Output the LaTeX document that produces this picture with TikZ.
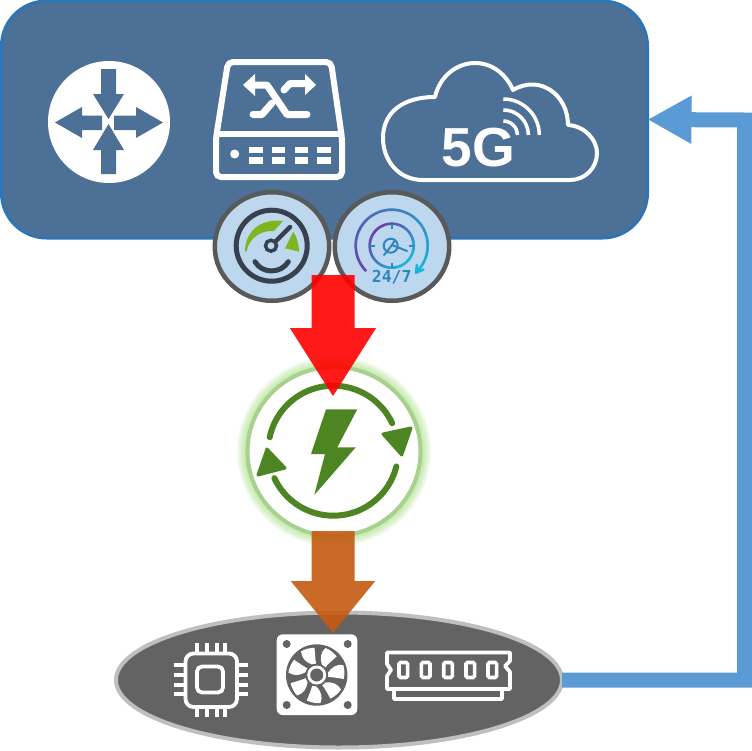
\documentclass[tikz,border=0pt]{standalone}
\usepackage{fontspec}
\setmainfont{Liberation Sans}
\newfontfamily\gaugemono{DejaVu Sans Mono}
\usetikzlibrary{arrows.meta,shapes.geometric}
\definecolor{panelfill}{HTML}{4D7096}
\definecolor{panelline}{HTML}{2E75B6}
\definecolor{loopblue}{HTML}{5B9BD5}
\definecolor{gaugefill}{HTML}{BDD7EE}
\definecolor{gaugeline}{HTML}{595959}
\definecolor{gaugedark}{HTML}{36404E}
\definecolor{gaugegreen}{HTML}{7FB520}
\definecolor{powergreen}{HTML}{4C8521}
\definecolor{ringgreen}{HTML}{A9D18E}
\definecolor{glowgreen}{HTML}{A6E07E}
\definecolor{ellfill}{HTML}{636363}
\definecolor{ellline}{HTML}{BFBFBF}
\definecolor{arrorange}{HTML}{C55A11}
\definecolor{dialpurple}{HTML}{6A3FA8}
\definecolor{dialcyan}{HTML}{18B4DC}
\definecolor{dialblue}{HTML}{2E86C1}
\tikzset{
  panelbox/.style={draw=panelline,fill=panelfill,line width=3pt,rounded corners=45pt,minimum width=646pt,minimum height=237pt,inner sep=0,outer sep=0},
  gaugebox/.style={ellipse,draw=gaugeline,fill=gaugefill,line width=4.5pt,minimum width=114.5pt,minimum height=108.5pt,inner sep=0,outer sep=0},
  powerbox/.style={ellipse,draw=ringgreen,fill=white,line width=4pt,minimum width=173pt,minimum height=169pt,inner sep=0,outer sep=0},
  basebox/.style={ellipse,draw=ellline,fill=ellfill,line width=4pt,minimum width=446pt,minimum height=135pt,inner sep=0,outer sep=0},
  wline/.style={draw=white,line width=3.8pt,line cap=round,line join=round},
  loopline/.style={draw=loopblue,line width=15pt,-{Triangle[length=44pt,width=45pt]}},
  blockred/.style={draw=red,line width=43pt,-{Triangle[length=69pt,width=81pt]}},
  blockorange/.style={draw=arrorange,line width=43pt,-{Triangle[length=52pt,width=81pt]}},
}
\begin{document}
\begin{tikzpicture}[x=1pt,y=-1pt]
\useasboundingbox (0,0) rectangle (752,750);
\fill[white] (0,0) rectangle (752,750);
% panel
\node[panelbox] (panel) at (324.5,119.5) {};
% router
\fill[white] (109,122) circle[radius=61];
\fill[panelfill] (101,69)--(116,69)--(116,94)--(124,94)--(108.5,119)--(93,94)--(101,94)--cycle;
\fill[panelfill] (101,174)--(116,174)--(116,150)--(124,150)--(108.5,124)--(93,150)--(101,150)--cycle;
\fill[panelfill] (55,122.5)--(82,107)--(82,115.5)--(102,115.5)--(102,130)--(82,130)--(82,138)--cycle;
\fill[panelfill] (163,122.5)--(136,107)--(136,115.5)--(114,115.5)--(114,130)--(136,130)--(136,138)--cycle;
% switch
\draw[draw=white,line width=6pt,rounded corners=5pt] (228,62)--(331,62)--(342,138)--(342,177)--(216,177)--(216,138)--cycle;
\draw[draw=white,line width=6pt] (218,134)--(340,134);
\fill[white] (234.7,154) circle[radius=4.5];
\foreach \xa/\xb in {249/263,272/285,295/308,317/331}{
  \fill[white] (\xa,147) rectangle (\xb,153);
  \fill[white] (\xa,157) rectangle (\xb,164);
}
\draw[draw=white,line width=7pt,line cap=round,line join=round] (255,85)--(267,85)--(287,114.5)--(307,114.5);
\draw[draw=white,line width=7pt,line cap=round,line join=round] (253,114.5)--(262,114.5)--(272,103);
\draw[draw=white,line width=7pt,line cap=round,line join=round] (284,90)--(290,83.5)--(304,83.5);
\fill[white] (243,85)--(255,74)--(255,96)--cycle;
\fill[white] (316,85)--(305,74)--(305,95)--cycle;
% cloud
\draw[draw=white,line width=4pt,line join=round] (423,180)
  .. controls (398,180) and (383,160) .. (383,138)
  .. controls (383,113) and (402,97) .. (435,97)
  .. controls (440,75) and (458,63) .. (475,63)
  .. controls (492,63) and (506,74) .. (513,90)
  .. controls (540,74) and (568,95) .. (568,125)
  .. controls (585,126) and (597,140) .. (597,153)
  .. controls (597,168) and (585,180) .. (570,180) -- cycle;
\node[text=white,font=\bfseries\fontsize{55}{55}\selectfont,inner sep=0] (fiveg) at (478.5,148) {5G};
\foreach \r in {14,25,36}{
  \draw[draw=white,line width=3.5pt] plot[domain=-90:0,samples=20] ({503.3+\r*cos(\x)},{135+\r*sin(\x)});
}
% ellipse
\node[basebox] (base) at (339,680) {};
% gauges
\node[gaugebox] (gaugea) at (272,246.5) {};
\node[gaugebox] (gaugeb) at (392,246.5) {};
% left gauge icon
\draw[draw=gaugedark,line width=5pt] (271.7,245.7) circle[radius=35.5];
\fill[gaugegreen] (245,251.5) .. controls (245,232) and (260,218) .. (283,221) -- (274,231) .. controls (261,230) and (249,238) .. (246.5,251.5) -- cycle;
\fill[gaugegreen] (293.3,231.7) .. controls (297,237) and (299,245) .. (299,251.7) -- (285,248.3) -- cycle;
\draw[draw=gaugedark,line width=4.5pt,line cap=round] (273,244) -- (290,227);
\draw[draw=gaugedark,fill=gaugefill,line width=3.5pt] (271,245.7) circle[radius=5.5];
\draw[draw=gaugedark,line width=5pt,line cap=round] (255,261.7) .. controls (262,274) and (281,274) .. (288.3,261.7);
% right gauge icon
\foreach \a in {135,140,...,400}{
  \pgfmathsetmacro{\p}{100-(\a-135)/265*100}
  \draw[draw=dialpurple!\p!dialcyan,line width=2.6pt] plot[domain=\a:\a+5.5,samples=3] ({391.7+36*cos(\x)},{245.7+36*sin(\x)});
}
\foreach \a in {0,6,...,354}{
  \pgfmathsetmacro{\p}{50-50*cos(\a-225)}
  \draw[draw=dialcyan!\p!dialpurple,line width=2.6pt] plot[domain=\a:\a+6.5,samples=3] ({391.7+22*cos(\x)},{245.7+22*sin(\x)});
}
\foreach \a in {0,90,180,270}{
  \draw[draw=dialblue,line width=2pt] ({391.7+22*cos(\a)},{245.7+22*sin(\a)}) -- ({391.7+17*cos(\a)},{245.7+17*sin(\a)});
}
\draw[draw=dialblue,line width=2pt] (390.7,245.7) circle[radius=7];
\draw[draw=dialblue,line width=2pt,line cap=round] (384,255) -- (392,245) -- (407,251);
\draw[draw=dialblue,line width=2pt,line cap=round] (392,245) -- (395,240);
\draw[draw=dialcyan,line width=2.6pt,line cap=round,line join=round] (417,265) -- (416,272.7) -- (423.5,269.5);
\node[text=dialblue,font=\gaugemono\bfseries\fontsize{16.5}{16.5}\selectfont,inner sep=0] (dialtext) at (391.7,276.7) {24/7};
% green glow
\foreach \r in {97,96,95,94,93,92,91,90,89,88,87}{
  \fill[glowgreen,opacity=0.09] (334,451.5) ellipse[x radius=\r,y radius=\r-2];
}
\node[powerbox] (power) at (334,451.5) {};
\draw[draw=powergreen,line width=6pt,line cap=round] plot[domain=192:335,samples=40] ({333.3+65*cos(\x)},{450.7+65*sin(\x)});
\draw[draw=powergreen,line width=6pt,line cap=round] plot[domain=14:155,samples=40] ({333.3+65*cos(\x)},{450.7+65*sin(\x)});
\filldraw[draw=powergreen,fill=powergreen,line width=3pt,line join=round] (383,434)--(411,428)--(401.7,455)--cycle;
\filldraw[draw=powergreen,fill=powergreen,line width=3pt,line join=round] (267,449)--(285,468)--(258,475)--cycle;
\fill[powergreen] (326,409.3)--(357.3,409.3)--(337.3,447.3)--(355.7,447.3)--(314.3,495)--(325,454)--(311,454)--cycle;
% base icons: chip
\draw[wline,rounded corners=8pt] (185.5,653.5) rectangle (237,707);
\draw[wline,rounded corners=5pt] (197,666.5) rectangle (223,692.5);
\foreach \v in {196.7,206.7,216.7,225}{
  \draw[wline,line cap=butt] (\v,643) -- (\v,653);
  \draw[wline,line cap=butt] (\v,707) -- (\v,717);
}
\foreach \v in {665,675,685,694}{
  \draw[wline,line cap=butt] (174,\v) -- (185,\v);
  \draw[wline,line cap=butt] (237,\v) -- (248,\v);
}
% fan
\fill[white,rounded corners=6pt] (276.7,634.3) rectangle (357.3,715);
\foreach \hx/\hy in {286.7/644,347.7/644,286.7/705,347.7/705}{
  \fill[ellfill] (\hx,\hy) circle[radius=4];
}
\fill[ellfill] (316.7,675) circle[radius=30.7];
\foreach \a in {0,51.43,102.86,154.29,205.71,257.14,308.57}{
  \begin{scope}[shift={(316.7,675)},rotate=\a]
    \fill[white] (11,-2) .. controls (15,-8) and (20,-11) .. (26.5,-10) .. controls (28,-6) and (28,-1) .. (27,4) .. controls (21,3) and (16,2) .. (11,2) -- cycle;
  \end{scope}
}
\fill[ellfill] (316.7,675) circle[radius=11.5];
\fill[white] (316.7,675) circle[radius=9.5];
\fill[ellfill] (316.7,675) circle[radius=6.5];
% RAM
\draw[wline] (387,652.5) -- (510,652.5) -- (510,661) -- (505,666) -- (510,672) -- (510,689) -- (387,689) -- (387,676) -- (391,670) -- (387,664) -- cycle;
\draw[wline] (394,690) -- (394,699) -- (502,699) -- (502,690);
\foreach \cx in {403.3,425.7,448,470.3,492.3}{
  \draw[draw=white,line width=3.6pt,rounded corners=1.5pt] (\cx-4.3,662.5) rectangle (\cx+4.3,677.5);
}
% connector
\coordinate (looplow) at (744.5,680);
\coordinate (loophigh) at (744.5,120);
\draw[loopline] (base.east) -- (looplow) -- (loophigh) -- (panel.east);
% block arrows
\coordinate (redstart) at (333,275);
\coordinate (redend) at (333,397);
\coordinate (orangestart) at (333,531);
\coordinate (orangeend) at (333,633);
\begin{scope}[transparency group,opacity=0.9]
\draw[blockred] (redstart) -- (redend);
\end{scope}
\begin{scope}[transparency group,opacity=0.9]
\draw[blockorange] (orangestart) -- (orangeend);
\end{scope}
\end{tikzpicture}
\end{document}
